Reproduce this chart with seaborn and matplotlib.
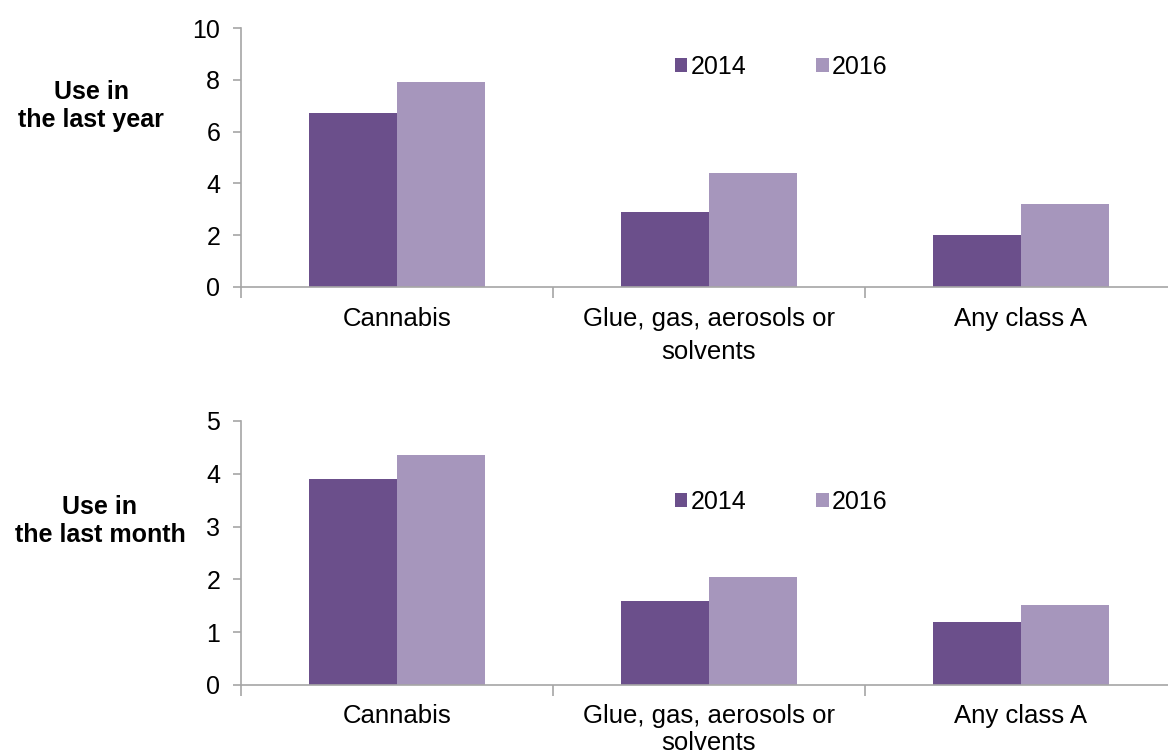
import matplotlib
matplotlib.use("Agg")
import matplotlib.pyplot as plt
import seaborn as sns
import pandas as pd

categories = ["Cannabis", "Glue, gas, aerosols or\nsolvents", "Any class A"]
years = ["2014", "2016"]
year_2014 = [6.7, 2.9, 2.0]
year_2016 = [7.9, 4.4, 3.2]
month_2014 = [3.9, 1.6, 1.2]
month_2016 = [4.36, 2.05, 1.52]
panel_labels = ["Use in\nthe last year", "Use in\nthe last month"]
yticks_top = [0, 2, 4, 6, 8, 10]
yticks_bottom = [0, 1, 2, 3, 4, 5]

colors = ["#6B4F8B", "#A696BC"]
gray = "#A6A6A6"

sns.set_theme(style="white")
plt.rcParams["font.family"] = ["Liberation Sans", "DejaVu Sans"]
plt.rcParams["text.color"] = "black"

def make_df(a, b):
    rows = []
    for c, v in zip(categories, a):
        rows.append({"cat": c, "year": years[0], "val": v})
    for c, v in zip(categories, b):
        rows.append({"cat": c, "year": years[1], "val": v})
    return pd.DataFrame(rows)

fig = plt.figure(figsize=(11.68, 7.55), dpi=100)
W, H = 1168, 755
ax1 = fig.add_axes([241 / W, 1 - 287 / H, 1 - 241 / W, (287 - 28) / H])
ax2 = fig.add_axes([241 / W, 1 - 685 / H, 1 - 241 / W, (685 - 421) / H])

specs = [
    (ax1, make_df(year_2014, year_2016), yticks_top, 10, 1 - 67 / H, 1.45, 14.5),
    (ax2, make_df(month_2014, month_2016), yticks_bottom, 5, 1 - 502 / H, 1.15, 13.5),
]

for ax, df, yt, ymax, legy, lsp, pad in specs:
    sns.barplot(data=df, x="cat", y="val", hue="year", palette=colors,
                width=0.565, ax=ax, saturation=1, edgecolor="none",
                errorbar=None)
    ax.set_ylim(0, ymax)
    ax.set_xlim(-0.5, 2.5 - 9 / 312)
    ax.set_yticks(yt)
    ax.set_yticklabels([str(t) for t in yt], fontsize=18, color="black")
    ax.set_xlabel("")
    ax.set_ylabel("")
    ax.set_xticks(range(len(categories)))
    ax.set_xticklabels(categories, fontsize=18.5, color="black", linespacing=lsp)
    ax.set_xticks([-0.5, 0.5, 1.5], minor=True)
    ax.tick_params(axis="x", which="major", length=0, pad=pad)
    ax.tick_params(axis="x", which="minor", length=8, width=1.2, color=gray,
                   direction="out", bottom=True)
    ax.tick_params(axis="y", which="major", length=6, width=1.2, color=gray,
                   direction="out", left=True, pad=9)
    for s in ["top", "right"]:
        ax.spines[s].set_visible(False)
    for s in ["left", "bottom"]:
        ax.spines[s].set_color(gray)
        ax.spines[s].set_linewidth(1.2)
    handles, labels = ax.get_legend_handles_labels()
    ax.legend(handles, labels, loc="center", bbox_to_anchor=(781 / W, legy),
              bbox_transform=fig.transFigure, ncol=2, frameon=False,
              fontsize=18, handlelength=0.5, handleheight=0.5,
              handletextpad=0.12, columnspacing=2.8, labelcolor="black")

fig.text(91 / W, 1 - 106 / H, panel_labels[0], ha="center", va="center",
         fontsize=18, fontweight="bold", linespacing=1.2, color="black")
fig.text(100 / W, 1 - 521 / H, panel_labels[1], ha="center", va="center",
         fontsize=18, fontweight="bold", linespacing=1.2, color="black")

fig.savefig("out.png", dpi=100)
